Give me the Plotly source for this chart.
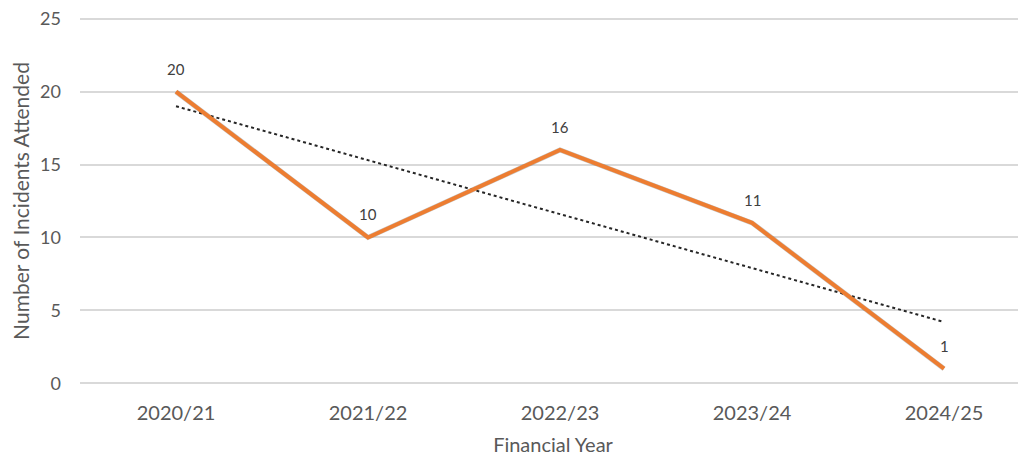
import plotly.graph_objects as go
import numpy as np

years = ["2020/21", "2021/22", "2022/23", "2023/24", "2024/25"]
incidents = [20, 10, 16, 11, 1]
y_ticks = [0, 5, 10, 15, 20, 25]

# linear trendline (least squares) computed from data
xi = np.arange(len(years))
slope, intercept = np.polyfit(xi, incidents, 1)
trend = list(slope * xi + intercept)

FONT = "Lato"
GREY = "#595959"
xr = [-0.5, 4.427]
yr = [-0.12, 25.12]

fig = go.Figure()
# invisible trace on main axes so category ticks are drawn
fig.add_trace(go.Scatter(x=years, y=incidents, mode="lines", line=dict(color="rgba(0,0,0,0)"),
                         hoverinfo="skip", showlegend=False))
# shadow trace on slightly offset axes
fig.add_trace(go.Scatter(x=years, y=incidents, mode="lines", xaxis="x2", yaxis="y2",
                         line=dict(color="rgba(0,0,0,0.22)", width=5), hoverinfo="skip",
                         showlegend=False))
fig.add_trace(go.Scatter(x=years, y=trend, mode="lines", xaxis="x3", yaxis="y3",
                         line=dict(color="#262626", width=2, dash="dot"), showlegend=False))
fig.add_trace(go.Scatter(x=years, y=incidents, mode="lines", xaxis="x3", yaxis="y3",
                         line=dict(color="#ED7D31", width=4), showlegend=False))

for yrr, v in zip(years, incidents):
    fig.add_annotation(x=yrr, y=v, xref="x3", yref="y3", text=str(v), showarrow=False,
                       yshift=23, font=dict(family=FONT, size=15, color="#404040"))

fig.update_layout(
    width=1018, height=449,
    margin=dict(l=72, r=0, t=9, b=72),
    paper_bgcolor="white", plot_bgcolor="white",
    font=dict(family=FONT, color=GREY),
    xaxis=dict(range=xr, type="category", showgrid=False, zeroline=False, showline=False, ticks="",
               ticklabelstandoff=14, tickfont=dict(size=20, color=GREY), ticklabeloverflow="allow",
               title=dict(text="Financial Year", font=dict(size=20, color=GREY), standoff=14)),
    yaxis=dict(range=yr, tickvals=y_ticks, showgrid=True, gridcolor="#D9D9D9", gridwidth=1.5,
               zeroline=False, showline=False, ticks="", ticklabelstandoff=18,
               ticklabeloverflow="allow",
               tickfont=dict(size=18, color=GREY),
               title=dict(text="Number of Incidents Attended", font=dict(size=21, color=GREY), standoff=4)),
    xaxis2=dict(range=xr, type="category", domain=[0.003, 1.0], overlaying="x", visible=False, anchor="y2"),
    yaxis2=dict(range=yr, domain=[0, 0.991], overlaying="y", visible=False, anchor="x2"),
    xaxis3=dict(range=xr, type="category", domain=[0, 1.0], overlaying="x", visible=False, anchor="y3"),
    yaxis3=dict(range=yr, domain=[0, 1.0], overlaying="y", visible=False, anchor="x3"),
)

fig.write_html("out.html")
